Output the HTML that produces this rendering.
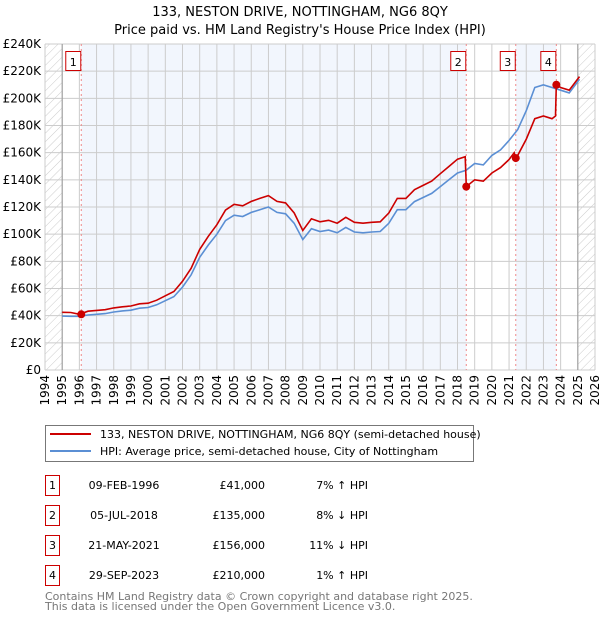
<!DOCTYPE html>
<html><head><meta charset="utf-8"><style>
body{margin:0;background:#fff;font-family:"DejaVu Sans","Liberation Sans",sans-serif;}
svg text{font-family:"DejaVu Sans","Liberation Sans",sans-serif;}
</style></head><body>
<svg id="chart" width="600" height="620" xmlns="http://www.w3.org/2000/svg">
<defs><pattern id="hatch" width="6" height="6" patternUnits="userSpaceOnUse" patternTransform="rotate(45)"><line x1="0" y1="0" x2="0" y2="6" stroke="#ccc" stroke-width="1"/></pattern></defs>
<text x="300" y="16" text-anchor="middle" font-size="13">133, NESTON DRIVE, NOTTINGHAM, NG6 8QY</text>
<text x="300" y="34" text-anchor="middle" font-size="13">Price paid vs. HM Land Registry's House Price Index (HPI)</text>
<g id="bg"></g><g id="grid"></g><g id="axes"></g><g id="series"></g><g id="markers"></g>
<g>
<rect x="45.5" y="425.5" width="428" height="36" fill="#fff" stroke="#777"/>
<line x1="50" y1="434" x2="91" y2="434" stroke="#cc0000" stroke-width="2"/>
<text x="100" y="438" font-size="11">133, NESTON DRIVE, NOTTINGHAM, NG6 8QY (semi-detached house)</text>
<line x1="50" y1="451" x2="91" y2="451" stroke="#5b8fd4" stroke-width="2"/>
<text x="100" y="455" font-size="11">HPI: Average price, semi-detached house, City of Nottingham</text>
</g>
<g id="table" font-size="11"></g>
<text x="45" y="600" font-size="11" fill="#777">Contains HM Land Registry data © Crown copyright and database right 2025.</text>
<text x="45" y="610" font-size="11" fill="#777">This data is licensed under the Open Government Licence v3.0.</text>
</svg>
<script>
const hpiYears=[1995,1995.5,1996,1996.5,1997,1997.5,1998,1998.5,1999,1999.5,2000,2000.5,2001,2001.5,2002,2002.5,2003,2003.5,2004,2004.5,2005,2005.5,2006,2006.5,2007,2007.5,2008,2008.5,2009,2009.5,2010,2010.5,2011,2011.5,2012,2012.5,2013,2013.5,2014,2014.5,2015,2015.5,2016,2016.5,2017,2017.5,2018,2018.5,2019,2019.5,2020,2020.5,2021,2021.5,2022,2022.5,2023,2023.5,2024,2024.5,2025.1];
const hpiValues=[39.7,39.5,39.5,40.5,41,41.5,42.7,43.5,44,45.5,46,48,51,54,61,70,83,92,100,110,114,113,116,118,120,116,115,108,96,104,102,103,101,105,101.6,101,101.6,102,108,118,118,124,127,130,135,140,145,147,152,151,158,162,169,177,191,208,210,208,206,204,214];
const priceYears=[1995,1995.5,1996,1996.5,1997,1997.5,1998,1998.5,1999,1999.5,2000,2000.5,2001,2001.5,2002,2002.5,2003,2003.5,2004,2004.5,2005,2005.5,2006,2006.5,2007,2007.5,2008,2008.5,2009,2009.5,2010,2010.5,2011,2011.5,2012,2012.5,2013,2013.5,2014,2014.5,2015,2015.5,2016,2016.5,2017,2017.5,2018,2018.45,2018.51,2019,2019.5,2020,2020.5,2021,2021.3,2021.39,2021.5,2022,2022.5,2023,2023.5,2023.7,2023.75,2024,2024.5,2025.1];
const priceValues=[42.5,42.3,41,43.3,43.9,44.4,45.7,46.5,47.1,48.7,49.2,51.4,54.6,57.8,65.3,74.9,88.8,98.4,107,117.7,122,120.9,124.1,126.3,128.4,124.1,123,115.6,102.7,111.3,109.1,110.2,108.1,112.4,108.7,108.1,108.7,109.1,115.6,126.3,126.3,132.7,135.9,139.1,144.5,149.8,155.2,157,135,140,139,145,149,155,160,156,158,170,185,187,185,187,210,208,206,216];
const saleYears=[1996.11,2018.51,2021.39,2023.75];
const salePrices=[41,135,156,210];
const saleLabels=["1","2","3","4"];
const saleDates=["09-FEB-1996","05-JUL-2018","21-MAY-2021","29-SEP-2023"];
const salePriceText=["£41,000","£135,000","£156,000","£210,000"];
const saleHpiText=["7% ↑ HPI","8% ↓ HPI","11% ↓ HPI","1% ↑ HPI"];
const yTicks=[0,20,40,60,80,100,120,140,160,180,200,220,240];
const yTickLabels=["£0","£20K","£40K","£60K","£80K","£100K","£120K","£140K","£160K","£180K","£200K","£220K","£240K"];
const xTicks=[1994,1995,1996,1997,1998,1999,2000,2001,2002,2003,2004,2005,2006,2007,2008,2009,2010,2011,2012,2013,2014,2015,2016,2017,2018,2019,2020,2021,2022,2023,2024,2025,2026];

const NS="http://www.w3.org/2000/svg";
const L=45,R=595,T=44,B=370;
const X=y=>L+(y-1994)/(2026-1994)*(R-L);
const Y=v=>B-v/240*(B-T);
function mk(tag,attrs,parent){const e=document.createElementNS(NS,tag);for(const k in attrs)e.setAttribute(k,attrs[k]);document.getElementById(parent).appendChild(e);return e;}

let e=mk('rect',{x:L,y:T,width:R-L,height:B-T,fill:'#fff'},'bg');


const shade=[[saleYears[0],saleYears[1]],[saleYears[2],saleYears[3]]];
shade.forEach(s=>{const r=mk('rect',{x:X(s[0]),y:T,width:X(s[1])-X(s[0]),height:B-T,fill:'#f2f6fd'},'bg');

});
e=mk('rect',{x:L,y:T,width:X(1995)-L,height:B-T,fill:'url(#hatch)'},'bg');


e=mk('rect',{x:X(2025),y:T,width:R-X(2025),height:B-T,fill:'url(#hatch)'},'bg');



yTicks.forEach((v,i)=>{const l=mk('line',{x1:L,x2:R,y1:Y(v),y2:Y(v),stroke:'#ccc'},'grid');


const t=mk('text',{x:L-4,y:Y(v)+4,'text-anchor':'end','font-size':12},'axes');t.textContent=yTickLabels[i];

});
xTicks.forEach(yr=>{const l=mk('line',{x1:X(yr),x2:X(yr),y1:T,y2:B,stroke:'#ccc'},'grid');


const xx=X(yr)+4, yy=B+5;
const t=mk('text',{x:xx,y:yy,'text-anchor':'end','font-size':12,transform:'rotate(-90 '+xx+' '+yy+')'},'axes');t.textContent=yr;

});
e=mk('line',{x1:X(1995),x2:X(1995),y1:T,y2:B,stroke:'#999'},'grid');


e=mk('line',{x1:X(2025),x2:X(2025),y1:T,y2:B,stroke:'#999'},'grid');



saleYears.forEach(s=>{const l=mk('line',{x1:X(s),x2:X(s),y1:T,y2:B,stroke:'#e88','stroke-dasharray':'2,3'},'grid');

});

const pts=(xs,vs)=>xs.map((x,i)=>X(x).toFixed(1)+','+Y(vs[i]).toFixed(1)).join(' ');
e=mk('polyline',{points:pts(hpiYears,hpiValues),fill:'none',stroke:'#5b8fd4','stroke-width':1.6},'series');


e=mk('polyline',{points:pts(priceYears,priceValues),fill:'none',stroke:'#cc0000','stroke-width':1.6},'series');



saleYears.forEach((s,i)=>{const c=mk('circle',{cx:X(s),cy:Y(salePrices[i]),r:4,fill:'#cc0000'},'markers');


const bx=mk('rect',{x:X(s)-15.5,y:51.5,width:15,height:19,fill:'#fff',stroke:'#cc0000'},'markers');


const t=mk('text',{x:X(s)-8,y:66,'text-anchor':'middle','font-size':11},'markers');t.textContent=saleLabels[i];

});

saleLabels.forEach((lb,i)=>{const y0=475+i*30;
const b=mk('rect',{x:45.5,y:y0+0.5,width:14,height:20,fill:'#fff',stroke:'#cc0000'},'table');


let t=mk('text',{x:52.5,y:y0+14,'text-anchor':'middle'},'table');t.textContent=lb;


t=mk('text',{x:124,y:y0+14,'text-anchor':'middle'},'table');t.textContent=saleDates[i];


t=mk('text',{x:265,y:y0+14,'text-anchor':'end'},'table');t.textContent=salePriceText[i];


t=mk('text',{x:368,y:y0+14,'text-anchor':'end'},'table');t.textContent=saleHpiText[i];

});
</script>
</body></html>
